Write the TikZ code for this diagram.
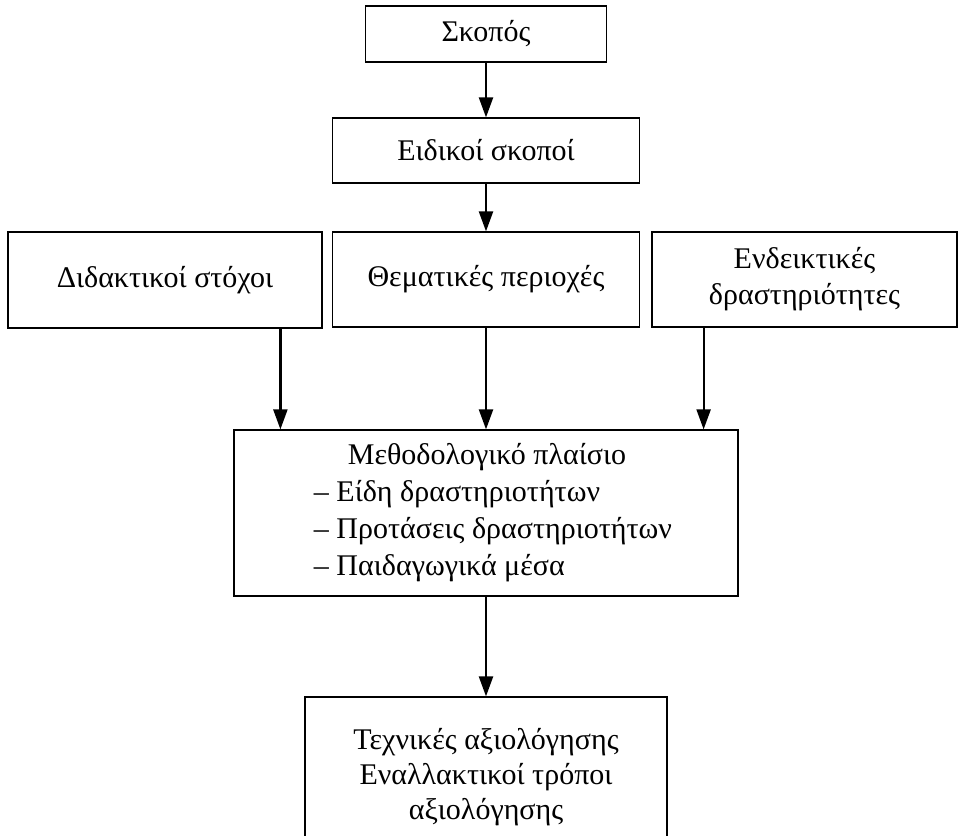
\documentclass[tikz,border=0pt]{standalone}
\usepackage{fontspec}
\setmainfont{Liberation Serif}
\usetikzlibrary{arrows.meta, positioning}

\begin{document}
\begin{tikzpicture}[x=0.5pt, y=-0.5pt,
  box/.style={draw=black, line width=0.6pt, align=center, inner sep=0pt,
              font=\fontsize{15}{18}\selectfont},
  arrow/.style={-{Triangle[length=10pt, width=7pt]}, line width=1.1pt}
]
\clip (0,0) rectangle (963,835);

\node[box, minimum width=120.5pt, minimum height=28pt]   (goal)       at (486,34)    {Σκοπός};
\node[box, minimum width=153.5pt, minimum height=32.5pt] (aims)       at (486,150.5) {Ειδικοί σκοποί};
\node[box, minimum width=157pt,   minimum height=48pt]   (objectives) at (165,280)   {Διδακτικοί στόχοι};
\node[box, minimum width=153.5pt, minimum height=47.5pt] (topics)     at (486,279.5) {Θεματικές περιοχές};
\node[box, minimum width=152.5pt, minimum height=47.5pt] (activities) at (804.5,279.5) {Ενδεικτικές\\δραστηριότητες};
\node[box, minimum width=252pt,   minimum height=83pt,
      font=\fontsize{15}{18.5}\selectfont]                (method)     at (486,513)
  {\hspace*{7pt}\begin{tabular}{@{}l@{}}
     \multicolumn{1}{@{}c@{}}{Μεθοδολογικό πλαίσιο\hspace*{6pt}}\\
     – Είδη δραστηριοτήτων\\
     – Προτάσεις δραστηριοτήτων\\
     – Παιδαγωγικά μέσα
   \end{tabular}};
\node[box, minimum width=181pt,   minimum height=80pt,
      font=\fontsize{15}{17.5}\selectfont]                (assess)     at (486,777)
  {Τεχνικές αξιολόγησης\\Εναλλακτικοί τρόποι\\αξιολόγησης};

\coordinate (inL) at ([xshift=23.5pt]method.north west);
\coordinate (inR) at ([xshift=-17.5pt]method.north east);

\draw[arrow] (goal)   -- (aims);
\draw[arrow] (aims)   -- (topics);
\draw[arrow] (inL |- objectives.south) -- (inL);
\draw[arrow] (topics) -- (method);
\draw[arrow] (inR |- activities.south) -- (inR);
\draw[arrow] (method) -- (assess);

\end{tikzpicture}
\end{document}
